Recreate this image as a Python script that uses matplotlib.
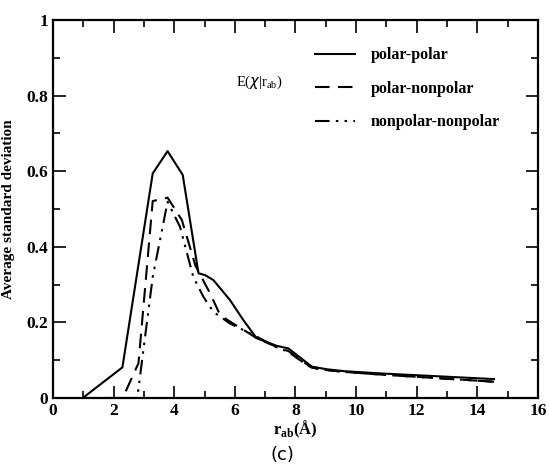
import matplotlib
matplotlib.use("Agg")
import matplotlib.pyplot as plt
from matplotlib.ticker import MultipleLocator

# polar-polar
x_pp = [1.03, 2.29, 3.29, 3.78, 4.28, 4.8, 5.02, 5.29, 5.84, 6.28, 6.72, 7.38, 7.77,
        8.04, 8.54, 9.03, 9.6, 10.8, 14.55]
y_pp = [0.003, 0.081, 0.594, 0.653, 0.59, 0.33, 0.325, 0.312, 0.259, 0.206, 0.158,
        0.138, 0.131, 0.114, 0.083, 0.076, 0.071, 0.065, 0.05]

# polar-nonpolar
x_pn = [1.03, 2.3, 2.82, 3.29, 3.78, 4.25, 4.7, 5.18, 5.51, 5.84, 6.39, 6.72, 7.38,
        7.77, 8.04, 8.54, 9.03, 9.6, 10.8, 14.55]
y_pn = [0.0, 0.0, 0.092, 0.521, 0.53, 0.471, 0.35, 0.277, 0.22, 0.202, 0.175, 0.158,
        0.135, 0.124, 0.108, 0.08, 0.074, 0.069, 0.062, 0.043]

# nonpolar-nonpolar
x_nn = [2.3, 2.78, 3.29, 3.78, 4.19, 4.63, 4.96, 5.29, 5.84, 6.61, 7.38, 7.77, 8.04,
        8.54, 9.03, 9.6, 10.8, 14.55]
y_nn = [0.0, 0.0, 0.32, 0.519, 0.453, 0.32, 0.268, 0.228, 0.197, 0.167, 0.134, 0.122,
        0.106, 0.079, 0.074, 0.069, 0.062, 0.043]

x_ticks = [0, 2, 4, 6, 8, 10, 12, 14, 16]
y_ticks = [0, 0.2, 0.4, 0.6, 0.8, 1]
y_ticklabels = ["0", "0.2", "0.4", "0.6", "0.8", "1"]

serif = "Liberation Serif"

fig = plt.figure(figsize=(5.49, 4.68), dpi=100)
ax = fig.add_axes([0.0965, 0.1496, 0.8835, 0.8077])

ax.plot(x_pp, y_pp, color="black", lw=1.5, label="polar-polar")
ax.plot(x_pn, y_pn, color="black", lw=1.5, dashes=(7, 4), label="polar-nonpolar")
ax.plot(x_nn, y_nn, color="black", lw=1.5, dashes=(7, 3, 1.2, 3, 1.2, 3),
        label="nonpolar-nonpolar")

ax.set_xlim(0, 16)
ax.set_ylim(0, 1)
ax.set_xticks(x_ticks, [str(v) for v in x_ticks])
ax.set_yticks(y_ticks, y_ticklabels)
ax.xaxis.set_minor_locator(MultipleLocator(1))
ax.yaxis.set_minor_locator(MultipleLocator(0.1))
ax.tick_params(which="both", direction="in", top=True, right=True, width=1.2)
ax.tick_params(which="major", length=9)
ax.tick_params(which="minor", length=5)
for lab in ax.get_xticklabels() + ax.get_yticklabels():
    lab.set_fontfamily(serif)
    lab.set_fontweight("bold")
    lab.set_fontsize(12.5)
for sp in ax.spines.values():
    sp.set_linewidth(1.6)

ax.set_ylabel("Average standard deviation", family=serif, weight="bold", fontsize=11,
              labelpad=8)
ax.set_xlabel(r"r$_{\mathregular{ab}}$(Å)", family=serif, weight="bold", fontsize=12,
              labelpad=0)

ax.text(6.05, 0.836, r"E($\chi$|r$_{\mathregular{ab}}$)", family=serif, fontsize=10.5,
        va="center")

leg = ax.legend(loc="upper left", bbox_to_anchor=(0.51, 0.966), frameon=False,
                prop={"family": serif, "weight": "bold", "size": 11.5},
                handlelength=2.5, labelspacing=1.1, handletextpad=1.0)

fig.text(0.515, 0.028, "(c)", ha="center", va="center", fontsize=13)

fig.savefig("out.png", dpi=100)
